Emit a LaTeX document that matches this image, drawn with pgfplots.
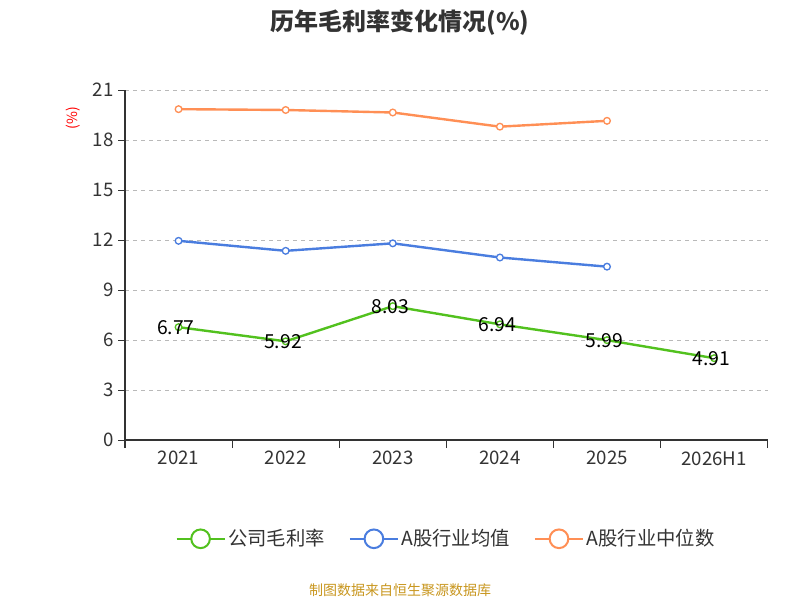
\documentclass[border=0pt]{standalone}
\usepackage{pgfplots}
\pgfplotsset{compat=1.18}
\usepackage{fontspec}
\setmainfont{Noto Sans CJK SC}
\definecolor{cg}{HTML}{52C11E}
\definecolor{cb}{HTML}{4A7DDF}
\definecolor{co}{HTML}{FF8F55}
\definecolor{tx}{HTML}{333333}
\definecolor{src}{HTML}{C8961E}
\begin{document}
\begin{tikzpicture}
\path[use as bounding box] (0,0) rectangle (600pt,450pt);
\node[font=\bfseries\fontsize{18}{20}\selectfont, text=tx] at (300pt,433pt) {历年毛利率变化情况(\%)};
\node[font=\fontsize{10.5}{12}\selectfont, text=src] at (300pt,7.5pt) {制图数据来自恒生聚源数据库};
\begin{axis}[at={(93.75pt,120pt)}, anchor=south west, scale only axis,
  width=482pt, height=262.5pt,
  xmin=-0.5, xmax=5.5, ymin=0, ymax=21,
  xtick={0,...,5}, xticklabels={2021,2022,2023,2024,2025,2026H1},
  minor xtick={-0.5,0.5,...,5.5},
  x tick style={draw=none}, minor x tick style={draw=tx, thick},
  minor tick length=6pt,
  ytick={0,3,...,21}, ymajorgrids, grid style={dashed, gray!55},
  tick align=outside, major tick length=5pt, y tick style={tx},
  axis x line*=bottom, axis y line*=left,
  axis line style={tx, thick},
  ticklabel style={font=\fontsize{14}{16}\selectfont, text=tx},
  /pgf/number format/assume math mode=true,
  ylabel={(\%)}, ylabel style={font=\fontsize{10.5}{12}\selectfont, text=red, at={(rel axis cs:0,0.92)}, anchor=south, yshift=30pt},
  legend style={at={(0.5,-0.24)}, anchor=north, draw=none, legend columns=3,
    font=\fontsize{14.5}{16}\selectfont, text=tx, /tikz/every even column/.append style={column sep=16pt}},
  legend image code/.code={\draw[#1, mark=none, line width=1.5pt] (0pt,0pt) -- (36pt,0pt); \draw[#1, mark=none, fill=white, line width=1.5pt] (18pt,0pt) circle (7pt);},
  every axis plot/.append style={line width=1.8pt, mark=*, mark size=2.5pt, mark options={fill=white, line width=1pt}},
]
\addplot[cg, nodes near coords, point meta=explicit symbolic, every node near coord/.append style={anchor=center, xshift=-2pt, font=\fontsize{14.5}{16}\selectfont, text=black}] coordinates {(0,6.77)[6.77] (1,5.92)[5.92] (2,8.03)[8.03] (3,6.94)[6.94] (4,5.99)[5.99] (5,4.91)[4.91]};
\addlegendentry{公司毛利率}
\addplot[cb] coordinates {(0,11.95) (1,11.35) (2,11.8) (3,10.95) (4,10.4)};
\addlegendentry{A股行业均值}
\addplot[co] coordinates {(0,19.85) (1,19.8) (2,19.65) (3,18.8) (4,19.15)};
\addlegendentry{A股行业中位数}
\end{axis}
\end{tikzpicture}
\end{document}
